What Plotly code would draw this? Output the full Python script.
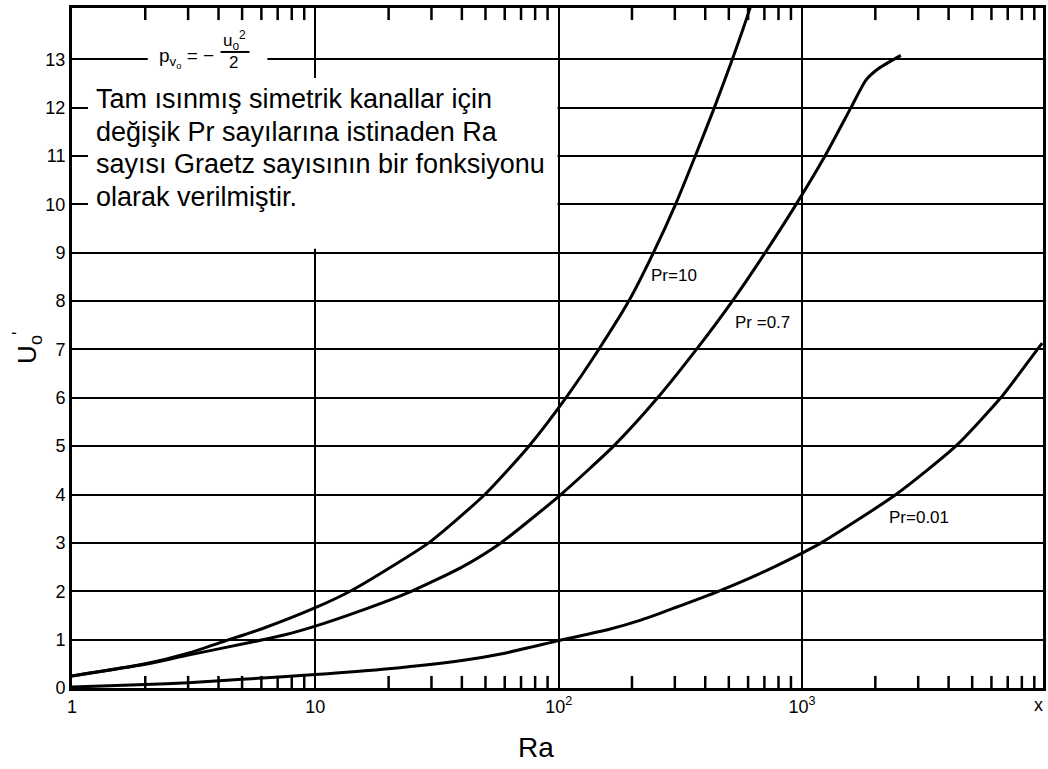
import plotly.graph_objects as go

# ---------------- data ----------------
ra_pr10 = [1, 2, 3, 4.3, 6, 10, 13.9, 20, 29.2, 49.7, 75.4, 107, 146, 194, 245, 302, 364, 436, 517, 606, 650]
u_pr10 = [0.25, 0.5, 0.72, 0.98, 1.22, 1.66, 2.0, 2.47, 3.0, 4.0, 5.0, 6.0, 7.0, 8.0, 9.0, 10.0, 11.0, 12.0, 13.0, 14.0, 14.5]

ra_pr07 = [1, 2, 3, 5.5, 7.5, 10, 15, 24.8, 40, 57.8, 102, 168, 255, 368, 517, 705, 945, 1242, 1588, 1830, 2050, 2546]
u_pr07 = [0.25, 0.49, 0.68, 0.95, 1.1, 1.28, 1.58, 2.0, 2.5, 3.0, 4.0, 5.0, 6.0, 7.0, 8.0, 9.0, 10.0, 11.0, 12.0, 12.57, 12.8, 13.08]

ra_pr001 = [1, 2, 3, 5, 10, 20, 40, 60, 100, 160, 219, 300, 453, 660, 1000, 1197, 2430, 4280, 6550, 9270, 9700]
u_pr001 = [0.02, 0.07, 0.11, 0.18, 0.28, 0.4, 0.57, 0.72, 0.98, 1.21, 1.41, 1.66, 2.0, 2.35, 2.79, 3.0, 4.0, 5.0, 6.0, 7.0, 7.13]

x_tickvals = [1, 10, 100, 1000]               # labelled decades (vertical grid at 10..1000)
x_ticktext = ["1", "10", "10<sup>2</sup>", "10<sup>3</sup>"]
minor_x = [m * d for d in (1, 10, 100, 1000) for m in range(2, 10)]
y_tickvals = list(range(0, 14))

curve_labels = ["Pr=10", "Pr =0.7", "Pr=0.01"]
box_lines = [
    "Tam ısınmış simetrik kanallar için",
    "değişik Pr sayılarına istinaden Ra",
    "sayısı Graetz sayısının bir fonksiyonu",
    "olarak verilmiştir.",
]

# ---------------- layout helpers ----------------
W, H = 1048, 769
L, R, T, B = 72, 1046, 8, 688.5
XRANGE = [0, 3.99]
YRANGE = [0, 14.06]
TICK = 0.25          # inside minor tick length, in y units (~12 px)


def px(x):
    return (x - L) / (R - L)


def py(y):
    return (B - y) / (B - T)


FONT = "Liberation Sans, Arial, sans-serif"

fig = go.Figure()
for xs, ys in [(ra_pr10, u_pr10), (ra_pr07, u_pr07), (ra_pr001, u_pr001)]:
    fig.add_trace(go.Scatter(x=xs, y=ys, mode="lines",
                             line=dict(color="black", width=3, shape="spline", smoothing=0.6),
                             showlegend=False, hoverinfo="skip"))

shapes = []
# minor tick marks (inside, bottom and top), placed on the x scale
for v in minor_x:
    for y0, y1 in ((YRANGE[0], YRANGE[0] + TICK), (YRANGE[1] - TICK, YRANGE[1])):
        shapes.append(dict(type="line", xref="x", yref="y", x0=v, x1=v, y0=y0, y1=y1,
                           line=dict(color="black", width=2.5), layer="above"))
shapes += [
    dict(type="rect", xref="paper", yref="paper", x0=px(88), x1=px(559), y0=py(249), y1=py(78),
         fillcolor="white", line=dict(width=0), layer="above"),
    dict(type="rect", xref="paper", yref="paper", x0=px(148), x1=px(268), y0=py(74), y1=py(30),
         fillcolor="white", line=dict(width=0), layer="above"),
    dict(type="line", xref="paper", yref="paper", x0=px(221), x1=px(250), y0=py(52), y1=py(52),
         line=dict(color="black", width=2), layer="above"),
]

ann = []
for i, t in enumerate(box_lines):
    ann.append(dict(xref="paper", yref="paper", x=px(94), y=py(99 + i * 32.7), text=t, showarrow=False,
                    xanchor="left", yanchor="middle", font=dict(family=FONT, size=27, color="black")))
ann.append(dict(xref="paper", yref="paper", x=px(187), y=py(58), text="p<sub>v<sub>o</sub></sub> = −",
                showarrow=False, xanchor="center", yanchor="middle",
                font=dict(family=FONT, size=19, color="black")))
ann.append(dict(xref="paper", yref="paper", x=px(235), y=py(41), text="u<sub>o</sub><sup>2</sup>",
                showarrow=False, xanchor="center", yanchor="middle",
                font=dict(family=FONT, size=17, color="black")))
ann.append(dict(xref="paper", yref="paper", x=px(234), y=py(63), text="2",
                showarrow=False, xanchor="center", yanchor="middle",
                font=dict(family=FONT, size=17, color="black")))
for t, (lx, ly) in zip(curve_labels, [(676, 276), (765, 323), (922, 518)]):
    ann.append(dict(xref="paper", yref="paper", x=px(lx), y=py(ly), text=t, showarrow=False,
                    xanchor="center", yanchor="middle", font=dict(family=FONT, size=17, color="black")))
ann.append(dict(xref="paper", yref="paper", x=px(1041), y=py(706), text="x", showarrow=False,
                xanchor="center", yanchor="middle", font=dict(family=FONT, size=18, color="black")))
ann.append(dict(xref="paper", yref="paper", x=px(537), y=py(748), text="Ra", showarrow=False,
                xanchor="center", yanchor="middle", font=dict(family=FONT, size=28, color="black")))
ann.append(dict(xref="paper", yref="paper", x=px(27), y=py(348), text="U<sub>o</sub><sup>'</sup>",
                showarrow=False, textangle=-90, xanchor="center", yanchor="middle",
                font=dict(family=FONT, size=26, color="black")))

fig.update_layout(
    width=W, height=H,
    margin=dict(l=L, r=W - R, t=T, b=H - B, pad=0),
    paper_bgcolor="white", plot_bgcolor="white",
    font=dict(family=FONT, color="black"),
    shapes=shapes, annotations=ann,
    xaxis=dict(type="log", range=XRANGE, tickvals=x_tickvals, ticktext=x_ticktext,
               showgrid=True, gridcolor="black", gridwidth=2,
               showline=True, linecolor="black", linewidth=3, mirror=True,
               ticks="", tickfont=dict(size=18, family=FONT), zeroline=False),
    yaxis=dict(range=YRANGE, tickvals=y_tickvals,
               showgrid=True, gridcolor="black", gridwidth=2,
               showline=True, linecolor="black", linewidth=3, mirror=True,
               ticks="", tickfont=dict(size=18, family=FONT), zeroline=False),
)

fig.write_html("out.html")
